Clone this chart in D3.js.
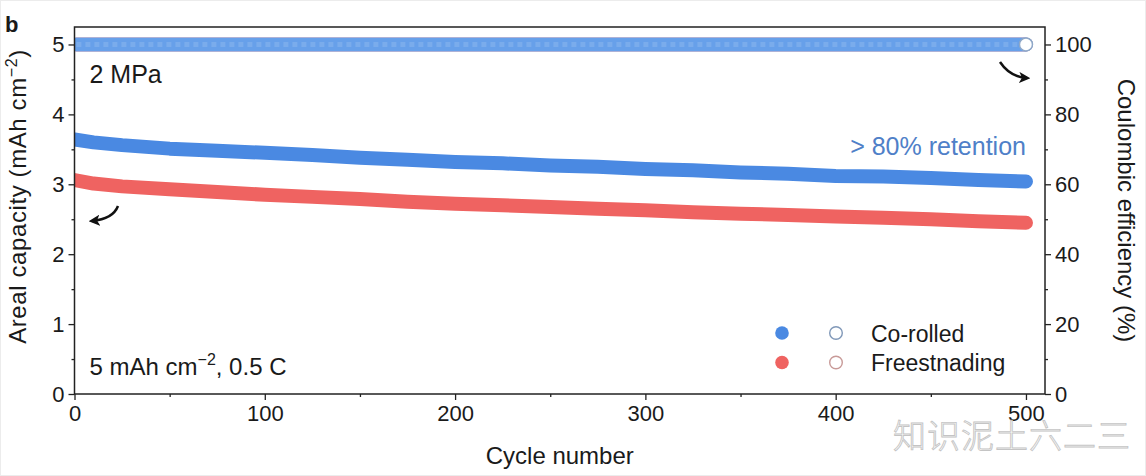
<!DOCTYPE html>
<html>
<head>
<meta charset="utf-8">
<script src="https://cdn.jsdelivr.net/npm/d3@7/dist/d3.min.js"></script>
<style>
  body { margin: 0; background: #fff; }
  text { font-family: "Liberation Sans", Arial, sans-serif; fill: #1a1a1a; }
</style>
</head>
<body>
<div id="chart"></div>
<script>
// values
const cycles = [0, 10, 25, 50, 75, 100, 125, 150, 175, 200, 225, 250, 275, 300, 325, 350, 375, 400, 425, 450, 475, 500];
const coRolledCap = [3.64, 3.60, 3.56, 3.51, 3.48, 3.45, 3.42, 3.38, 3.35, 3.32, 3.30, 3.27, 3.25, 3.22, 3.20, 3.17, 3.15, 3.12, 3.11, 3.09, 3.06, 3.04];
const freeCap = [3.06, 3.01, 2.97, 2.93, 2.89, 2.85, 2.82, 2.79, 2.75, 2.72, 2.70, 2.675, 2.65, 2.63, 2.60, 2.58, 2.56, 2.54, 2.52, 2.50, 2.47, 2.45];
const ceCycles = [1, 50, 100, 150, 200, 250, 300, 350, 400, 450, 500];
const coRolledCE = [100, 100, 100, 100, 100, 100, 100, 100, 100, 100, 100];
const freeCE = [100, 100, 100, 100, 100, 100, 100, 100, 100, 100, 100];
const xTicks = [0, 100, 200, 300, 400, 500];
const yLeftTicks = [0, 1, 2, 3, 4, 5];
const yRightTicks = [0, 20, 40, 60, 80, 100];
const legendNames = ['Co-rolled', 'Freestnading'];

const blue = '#4a89e2', red = '#ef6361';
const blueCE = '#67a0ea', redCE = '#ef8a88';

let width = 1146, height = 476;
let margin = {top: 27, right: 101, bottom: 82, left: 74.5};
let w = width - margin.left - margin.right;
let h = height - margin.top - margin.bottom;

let svg = d3.select('#chart').append('svg')
    .attr('width', width)
    .attr('height', height);

svg.append('rect').attr('x', 0.5).attr('y', 0.5)
    .attr('width', width - 1).attr('height', height - 1)
    .attr('fill', 'none').attr('stroke', '#ececec');

let g = svg.append('g')
    .attr('transform', 'translate(' + margin.left + ',' + margin.top + ')');

let x = d3.scaleLinear().domain([0, 510]).range([0, w]);
let yL = d3.scaleLinear().domain([0, 5.25]).range([h, 0]);
let yR = d3.scaleLinear().domain([0, 105]).range([h, 0]);

g.append('clipPath').attr('id', 'plotClip')
    .append('rect').attr('width', w).attr('height', h);

let plot = g.append('g').attr('clip-path', 'url(#plotClip)');

let lineL = (vals) => d3.line().x((d, i) => x(cycles[i])).y(d => yL(d))(vals);
let lineR = (vals) => d3.line().x((d, i) => x(ceCycles[i])).y(d => yR(d))(vals);

// coulombic efficiency bands (dense open markers)
plot.append('path').attr('d', lineR(freeCE))
    .attr('fill', 'none').attr('stroke', redCE).attr('stroke-width', 14).attr('stroke-linecap', 'round');
plot.append('path').attr('d', lineR(coRolledCE))
    .attr('fill', 'none').attr('stroke', blueCE).attr('stroke-width', 14).attr('stroke-linecap', 'round');
plot.append('path').attr('d', lineR(coRolledCE))
    .attr('fill', 'none').attr('stroke', 'rgba(255,255,255,0.13)').attr('stroke-width', 5)
    .attr('stroke-dasharray', '5 4');

// capacity bands (dense filled markers)
plot.append('path').attr('d', lineL(coRolledCap))
    .attr('fill', 'none').attr('stroke', blue).attr('stroke-width', 14).attr('stroke-linecap', 'round').attr('stroke-linejoin', 'round');
plot.append('path').attr('d', lineL(freeCap))
    .attr('fill', 'none').attr('stroke', red).attr('stroke-width', 14).attr('stroke-linecap', 'round').attr('stroke-linejoin', 'round');

// last CE marker, open circle
plot.append('circle')
    .attr('cx', x(ceCycles[ceCycles.length - 1]))
    .attr('cy', yR(coRolledCE[coRolledCE.length - 1]))
    .attr('r', 6.5)
    .attr('fill', '#fff').attr('stroke', '#8fa8c8').attr('stroke-width', 1.5);

// axes
let axisColor = '#222';
let styleAxis = (sel) => {
    sel.select('.domain').remove();
    sel.selectAll('line').attr('stroke', axisColor).attr('stroke-width', 1.3);
    sel.selectAll('text').style('font-size', '22px').attr('fill', '#1a1a1a')
        .style('font-family', '"Liberation Sans", Arial, sans-serif');
};

g.append('g').attr('transform', 'translate(0,' + h + ')')
    .call(d3.axisBottom(x).tickValues(d3.range(50, 501, 100)).tickSize(3).tickFormat(''))
    .call(styleAxis);
g.append('g').attr('transform', 'translate(0,' + h + ')')
    .call(d3.axisBottom(x).tickValues(xTicks).tickSize(6).tickPadding(5))
    .call(styleAxis);

g.append('g')
    .call(d3.axisLeft(yL).tickValues(d3.range(0.5, 5.1, 1)).tickSize(3).tickFormat(''))
    .call(styleAxis);
g.append('g')
    .call(d3.axisLeft(yL).tickValues(yLeftTicks).tickSize(6).tickPadding(4).tickFormat(d3.format('d')))
    .call(styleAxis);

g.append('g').attr('transform', 'translate(' + w + ',0)')
    .call(d3.axisRight(yR).tickValues(d3.range(10, 101, 20)).tickSize(3).tickFormat(''))
    .call(styleAxis);
g.append('g').attr('transform', 'translate(' + w + ',0)')
    .call(d3.axisRight(yR).tickValues(yRightTicks).tickSize(6).tickPadding(4))
    .call(styleAxis);

// frame
g.append('rect').attr('width', w).attr('height', h)
    .attr('fill', 'none').attr('stroke', axisColor).attr('stroke-width', 1.5);

// axis titles
g.append('text')
    .attr('transform', 'translate(' + (-48.5) + ',' + (h / 2 - 14) + ') rotate(-90)')
    .attr('text-anchor', 'middle')
    .style('font-size', '24px')
    .attr('letter-spacing', '0.6')
    .call(t => {
        t.append('tspan').text('Areal capacity (mAh cm');
        t.append('tspan').text('\u22122').attr('dy', -9).style('font-size', '16px');
        t.append('tspan').text(')').attr('dy', 9);
    });

g.append('text')
    .attr('transform', 'translate(' + (w + 73) + ',' + (h / 2) + ') rotate(90)')
    .attr('text-anchor', 'middle')
    .style('font-size', '24px')
    .text('Coulombic efficiency (%)');

g.append('text')
    .attr('x', w / 2).attr('y', h + 70)
    .attr('text-anchor', 'middle')
    .style('font-size', '24px')
    .text('Cycle number');

svg.append('text').attr('x', 5).attr('y', 32)
    .style('font-size', '22px').style('font-weight', 'bold')
    .text('b');

// annotations
g.append('text').attr('x', 15).attr('y', 56)
    .style('font-size', '25px').text('2 MPa');

g.append('text').attr('x', x(500)).attr('y', 128)
    .attr('text-anchor', 'end')
    .style('font-size', '25px').style('fill', '#4f80c8')
    .text('> 80% retention');

g.append('text').attr('x', 15).attr('y', 348)
    .style('font-size', '24px')
    .call(t => {
        t.append('tspan').text('5 mAh cm');
        t.append('tspan').text('\u22122').attr('dy', -10).style('font-size', '16px');
        t.append('tspan').text(', 0.5 C').attr('dy', 10);
    });

// arrows
let defs = svg.append('defs');
defs.append('marker').attr('id', 'head')
    .attr('viewBox', '0 0 10 10').attr('refX', 7).attr('refY', 5)
    .attr('markerWidth', 4.5).attr('markerHeight', 4.5)
    .attr('orient', 'auto')
    .append('path').attr('d', 'M0,0 L10,5 L0,10 L2.5,5 Z').attr('fill', '#111');

svg.append('path').attr('d', 'M118,206 Q113,219 92,221')
    .attr('fill', 'none').attr('stroke', '#111').attr('stroke-width', 2.5)
    .attr('marker-end', 'url(#head)');
svg.append('path').attr('d', 'M1000,62 Q1010,77 1027,78')
    .attr('fill', 'none').attr('stroke', '#111').attr('stroke-width', 2.5)
    .attr('marker-end', 'url(#head)');

// legend
let legend = svg.append('g');
let legendRows = legendNames.map((name, i) => ({
    name: name,
    fill: i === 0 ? blue : red,
    edge: i === 0 ? '#8098b8' : '#c89a98'
}));
let rows = legend.selectAll('g').data(legendRows).enter().append('g')
    .attr('transform', (d, i) => 'translate(0,' + (333 + i * 29.5) + ')');
rows.append('circle').attr('cx', 782).attr('r', 6.8).attr('fill', d => d.fill);
rows.append('circle').attr('cx', 836).attr('r', 6.3)
    .attr('fill', '#fff').attr('stroke', d => d.edge).attr('stroke-width', 1.4);
rows.append('text').attr('x', 871).attr('y', 8.5)
    .style('font-size', '23px').text(d => d.name);

// watermark
svg.append('text').attr('x', 893).attr('y', 448)
    .style('font-family', '"Noto Sans CJK SC", sans-serif')
    .style('font-size', '33px').style('font-weight', '300')
    .style('fill', '#fff').attr('stroke', '#c4c4c4').attr('stroke-width', 0.9)
    .attr('letter-spacing', '1')
    .text('知识泥土六二三');
</script>
</body>
</html>
